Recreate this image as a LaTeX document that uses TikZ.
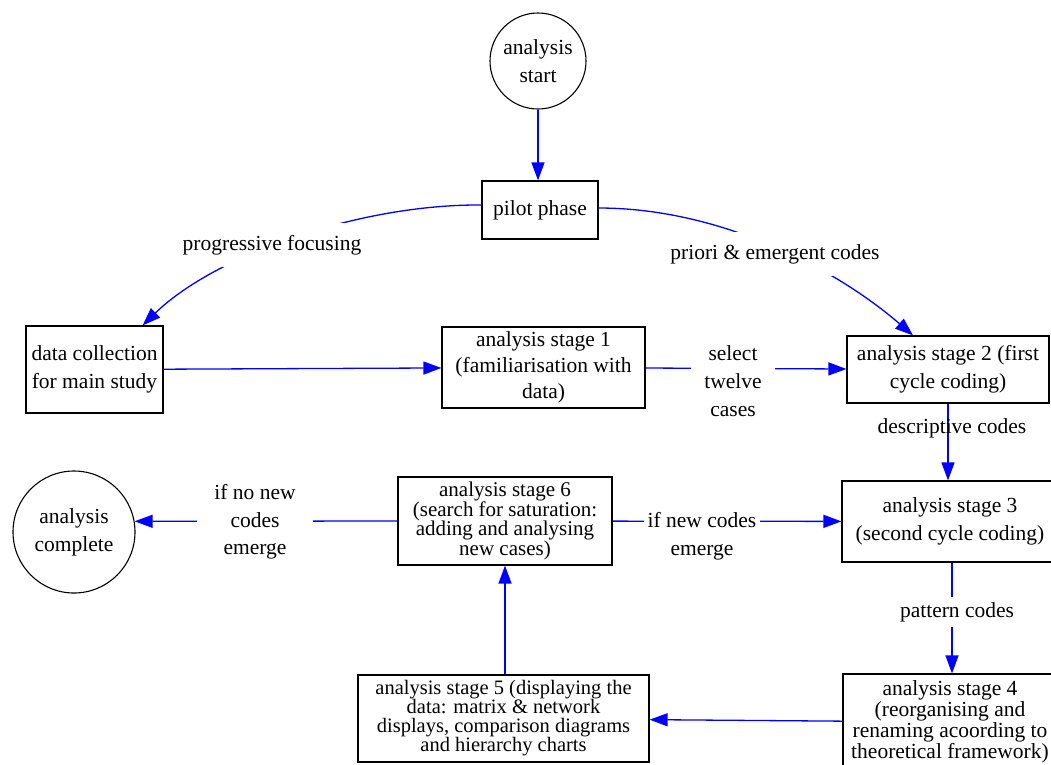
\documentclass[tikz,border=0pt]{standalone}
\usepackage{fontspec}
\setmainfont{Liberation Serif}
\usetikzlibrary{arrows.meta}
\definecolor{flowblue}{RGB}{0,0,255}
\newcommand{\fs}[1]{\fontsize{21.5}{#1}\selectfont}
\newcommand{\fss}[2]{\fontsize{#1}{#2}\selectfont}
\begin{document}
\begin{tikzpicture}[x=1pt,y=-1pt,
  every node/.style={font=\fs{26}, align=center, inner sep=0pt},
  stagebox/.style={draw=black, line width=1.2pt, rectangle},
  endcircle/.style={draw=black, line width=1.1pt, circle},
  flow/.style={draw=flowblue, line width=1.3pt, -{Triangle[length=18pt,width=13pt]}},
  gaplabel/.style={fill=white, inner ysep=3pt},
  ]
\useasboundingbox (0,0) rectangle (1051,764);

% process nodes
\node[endcircle, minimum size=96pt, font=\fs{28}] (start) at (538,61) {analysis\\start};
\node[stagebox, minimum width=116pt, minimum height=58pt] (pilot) at (540,210) {pilot phase};
\node[stagebox, minimum width=137pt, minimum height=87pt, font=\fs{28}] (datacoll) at (94.5,369.5) {data collection\\for main study};
\node[stagebox, minimum width=203pt, minimum height=81pt, font=\fs{26}] (s1) at (543.5,367.5) {analysis stage 1\\(familiarisation with\\data)};
\node[stagebox, minimum width=202pt, minimum height=67pt, font=\fs{28}] (s2) at (948,369.5) {analysis stage 2 (first\\cycle coding)};
\node[stagebox, minimum width=216pt, minimum height=81pt, font=\fs{28}] (s3) at (950,521.5) {analysis stage 3\\(second cycle coding)};
\node[stagebox, minimum width=214pt, minimum height=96pt, font=\fs{21}] (s4) at (950,722) {analysis stage 4\\(reorganising and\\renaming acoording to\\theoretical framework)};
\node[stagebox, minimum width=291pt, minimum height=87pt, font=\fss{20.5}{19}] (s5) at (503.5,718.5) {analysis stage 5 (displaying the\\data: matrix \& network\\displays, comparison diagrams\\and hierarchy charts};
\node[stagebox, minimum width=214pt, minimum height=88pt, font=\fss{21}{19.8}] (s6) at (505,521) {analysis stage 6\\(search for saturation:\\adding and analysing\\new cases)};
\node[endcircle, minimum size=122pt, font=\fs{28}] (complete) at (74,532) {analysis\\complete};

% connectors
\draw[flow] (start.south) -- (start.south |- pilot.north);
\draw[flow] ([yshift=5pt]pilot.west) .. controls (360,204) and (215,255) .. ([xshift=-21pt]datacoll.north east);
\draw[flow] ([yshift=2pt]pilot.east) .. controls (720,208) and (835,268) .. ([xshift=-35pt]s2.north);
\draw[flow] (datacoll) -- (s1);
\draw[flow] (s1) -- (s2);
\draw[flow] (s2.south) -- (s2.south |- s3.north);
\draw[flow] ([xshift=2pt]s3.south) -- ([xshift=2pt]s4.north);
\draw[flow] (s4) -- (s5);
\draw[flow] ([xshift=1.5pt]s5.north) -- (s6.south);
\draw[flow] (s6) -- (s3);
\draw[flow] (s6.west) -- (complete.10);

% connector labels
\node[gaplabel, inner xsep=6pt, inner ysep=12pt] (lfocus) at (272,245) {progressive focusing};
\node[gaplabel, inner xsep=6pt, inner ysep=12pt] (lcodes) at (775,254) {priori \& emergent codes};
\node[gaplabel, inner xsep=13pt, font=\fs{28}] (lselect) at (733,381) {select\\twelve\\cases};
\node (ldesc) at (952,428) {descriptive codes};
\node[gaplabel, inner xsep=4pt, font=\fs{28}] (lnew) at (702,536) {if new codes\\emerge};
\node[gaplabel, inner xsep=17pt, font=\fs{27.5}] (lnonew) at (255,522) {if no new\\codes\\emerge};
\node[gaplabel, inner ysep=5pt] (lpattern) at (957,612) {pattern codes};
\end{tikzpicture}
\end{document}
